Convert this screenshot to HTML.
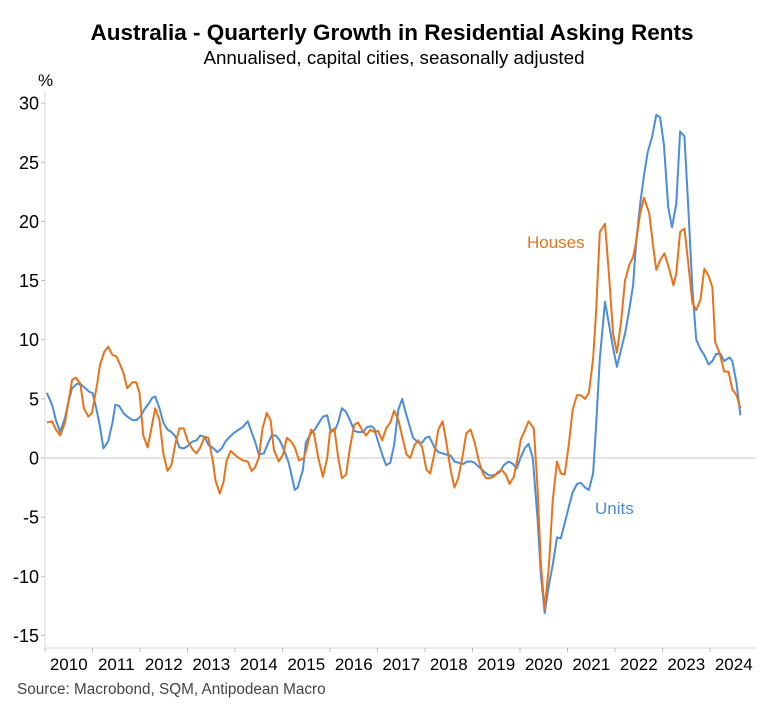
<!DOCTYPE html>
<html><head><meta charset="utf-8"><style>
html,body{margin:0;padding:0;background:#fff;}
svg{display:block;font-family:"Liberation Sans",Arial,sans-serif;}
</style></head><body>
<svg id="chart" width="767" height="715" viewBox="0 0 767 715">
<text x="392" y="40" text-anchor="middle" font-size="22.5" font-weight="bold" fill="#000">Australia - Quarterly Growth in Residential Asking Rents</text>
<text x="394" y="64" text-anchor="middle" font-size="18.8" fill="#000">Annualised, capital cities, seasonally adjusted</text>
<text x="38" y="86" font-size="17" fill="#000">%</text>
<g id="axes"></g>
<g id="series"></g>
<text x="527" y="248" font-size="17" fill="#E8731A">Houses</text>
<text x="595" y="514" font-size="17" fill="#4A8DD8">Units</text>
<text x="17" y="694" font-size="15.3" fill="#444">Source: Macrobond, SQM, Antipodean Macro</text>
</svg>
<script>
const yTicks = [30,25,20,15,10,5,0,-5,-10,-15];
const yearLabels = [2010,2011,2012,2013,2014,2015,2016,2017,2018,2019,2020,2021,2022,2023,2024];

const unitsDates = [2010.04,2010.15,2010.23,2010.32,2010.42,2010.49,2010.57,2010.68,2010.76,2010.85,2010.93,2011.00,2011.08,2011.16,2011.23,2011.33,2011.42,2011.48,2011.56,2011.65,2011.73,2011.84,2011.92,2012.01,2012.09,2012.18,2012.26,2012.32,2012.41,2012.49,2012.58,2012.66,2012.75,2012.83,2012.92,2013.00,2013.11,2013.19,2013.27,2013.36,2013.44,2013.55,2013.63,2013.72,2013.80,2013.89,2013.97,2014.08,2014.16,2014.27,2014.33,2014.42,2014.50,2014.61,2014.69,2014.77,2014.86,2014.94,2015.03,2015.13,2015.26,2015.32,2015.43,2015.49,2015.60,2015.68,2015.77,2015.85,2015.94,2016.02,2016.11,2016.17,2016.25,2016.34,2016.42,2016.51,2016.59,2016.70,2016.78,2016.87,2016.93,2017.01,2017.10,2017.18,2017.27,2017.35,2017.44,2017.52,2017.59,2017.67,2017.75,2017.86,2017.94,2018.01,2018.09,2018.20,2018.28,2018.37,2018.45,2018.54,2018.62,2018.70,2018.81,2018.89,2018.98,2019.04,2019.15,2019.23,2019.32,2019.40,2019.49,2019.57,2019.66,2019.76,2019.85,2019.93,2020.02,2020.10,2020.18,2020.27,2020.37,2020.44,2020.52,2020.61,2020.69,2020.78,2020.86,2020.94,2021.03,2021.11,2021.20,2021.28,2021.37,2021.45,2021.54,2021.60,2021.68,2021.79,2021.87,2021.96,2022.04,2022.13,2022.21,2022.30,2022.38,2022.44,2022.53,2022.61,2022.69,2022.78,2022.87,2022.95,2023.03,2023.12,2023.20,2023.29,2023.37,2023.46,2023.54,2023.63,2023.71,2023.80,2023.88,2023.97,2024.05,2024.13,2024.22,2024.30,2024.41,2024.47,2024.56,2024.64];
const unitsValues = [5.5,4.5,3.2,2.2,3.4,4.7,5.9,6.3,6.2,5.9,5.6,5.5,4.2,2.6,0.8,1.4,3.0,4.5,4.4,3.8,3.5,3.2,3.2,3.5,4.1,4.6,5.1,5.2,4.2,3.0,2.4,2.2,1.8,0.9,0.8,1.0,1.4,1.5,1.9,1.8,1.1,0.8,0.5,0.8,1.4,1.8,2.1,2.4,2.6,3.1,2.4,1.4,0.3,0.4,1.2,1.9,1.9,1.5,0.7,-0.4,-2.7,-2.5,-1.0,1.3,2.1,2.4,3.0,3.5,3.6,2.2,2.4,3.0,4.2,3.9,3.2,2.3,2.2,2.2,2.6,2.7,2.5,1.4,0.3,-0.6,-0.4,1.1,4.1,5.0,3.9,2.8,1.7,1.3,1.3,1.7,1.8,0.9,0.5,0.4,0.3,0.2,-0.3,-0.4,-0.5,-0.3,-0.3,-0.4,-0.8,-1.1,-1.4,-1.5,-1.4,-1.2,-0.6,-0.3,-0.5,-0.9,0.1,0.8,1.2,0.0,-5.2,-9.9,-13.1,-10.7,-9.0,-6.7,-6.8,-5.5,-4.1,-2.9,-2.2,-2.1,-2.5,-2.7,-1.3,2.6,8.4,13.2,11.4,9.3,7.7,9.2,10.5,12.5,14.6,18.0,21.5,23.9,25.9,27.1,29.0,28.8,26.5,21.2,19.5,21.5,27.6,27.2,21.5,14.3,10.0,9.2,8.7,7.9,8.2,8.8,8.8,8.2,8.5,8.2,6.3,3.6];

const housesDates = [2010.04,2010.15,2010.23,2010.32,2010.42,2010.57,2010.65,2010.74,2010.82,2010.91,2010.99,2011.10,2011.16,2011.25,2011.33,2011.42,2011.50,2011.58,2011.65,2011.73,2011.84,2011.92,2011.99,2012.07,2012.16,2012.24,2012.32,2012.41,2012.49,2012.58,2012.66,2012.75,2012.83,2012.92,2013.00,2013.11,2013.19,2013.27,2013.36,2013.44,2013.53,2013.59,2013.68,2013.76,2013.82,2013.91,2013.99,2014.08,2014.16,2014.27,2014.35,2014.42,2014.50,2014.58,2014.67,2014.75,2014.82,2014.92,2015.01,2015.09,2015.18,2015.26,2015.35,2015.45,2015.51,2015.60,2015.66,2015.75,2015.85,2015.94,2016.00,2016.09,2016.17,2016.25,2016.34,2016.42,2016.51,2016.59,2016.70,2016.76,2016.85,2016.93,2017.01,2017.10,2017.18,2017.27,2017.35,2017.44,2017.52,2017.61,2017.69,2017.78,2017.86,2017.94,2018.03,2018.11,2018.20,2018.28,2018.37,2018.45,2018.54,2018.62,2018.70,2018.79,2018.87,2018.96,2019.04,2019.13,2019.21,2019.28,2019.36,2019.44,2019.53,2019.61,2019.70,2019.78,2019.87,2019.95,2020.02,2020.10,2020.18,2020.29,2020.37,2020.44,2020.52,2020.61,2020.69,2020.78,2020.86,2020.94,2021.03,2021.11,2021.20,2021.28,2021.37,2021.45,2021.54,2021.60,2021.68,2021.79,2021.87,2021.96,2022.04,2022.13,2022.21,2022.30,2022.38,2022.44,2022.53,2022.61,2022.72,2022.80,2022.87,2022.95,2023.04,2023.14,2023.23,2023.29,2023.37,2023.46,2023.54,2023.63,2023.71,2023.80,2023.88,2023.97,2024.05,2024.11,2024.20,2024.30,2024.39,2024.47,2024.56,2024.64];
const housesValues = [3.0,3.1,2.4,1.9,3.0,6.6,6.8,6.3,4.2,3.5,3.8,6.3,7.9,9.0,9.4,8.7,8.6,7.9,7.2,5.9,6.4,6.4,5.5,1.9,0.9,2.5,4.2,3.2,0.4,-1.1,-0.6,1.3,2.5,2.5,1.5,0.7,0.4,0.9,1.8,1.7,-0.2,-1.9,-3.0,-2.0,-0.3,0.6,0.3,0.0,-0.2,-0.3,-1.1,-0.8,0.0,2.5,3.8,3.2,0.7,-0.3,0.3,1.7,1.4,0.9,-0.2,0.0,0.8,2.4,2.1,0.1,-1.6,0.0,2.2,2.5,0.1,-1.7,-1.4,0.9,2.8,3.0,2.2,1.9,2.4,2.2,2.3,1.5,2.5,3.0,4.0,3.2,1.8,0.3,0.0,1.1,1.5,0.9,-1.0,-1.3,0.4,2.4,3.1,1.3,-1.0,-2.5,-1.7,0.1,2.1,2.4,1.4,-0.2,-1.2,-1.7,-1.7,-1.6,-1.2,-1.0,-1.4,-2.2,-1.6,0.0,1.6,2.3,3.1,2.5,-2.6,-9.0,-12.8,-9.0,-3.5,-0.3,-1.3,-1.4,1.2,4.1,5.3,5.3,5.0,5.5,8.4,12.2,19.1,19.8,15.7,10.5,8.9,11.6,15.0,16.3,17.0,18.2,20.7,22.0,20.7,18.0,15.9,16.7,17.3,16.0,14.6,15.6,19.1,19.4,16.6,13.1,12.5,13.4,16.0,15.4,14.4,9.8,8.9,7.3,7.3,5.8,5.3,4.2];

const NS = "http://www.w3.org/2000/svg";
const X0 = 45, YEARW = 47.5, Y0 = 458, UNIT = 11.83;
function xScale(t){ return X0 + (t - 2010) * YEARW; }
function yScale(v){ return Y0 - v * UNIT; }
function mk(tag, attrs, parent){ const e=document.createElementNS(NS,tag); for(const k in attrs) e.setAttribute(k,attrs[k]); parent.appendChild(e); return e; }

const axes = document.getElementById('axes');
const left = mk('line',{x1:X0,y1:92,x2:X0,y2:648,stroke:'#d9d9d9','stroke-width':1},axes);


const bottom = mk('line',{x1:X0,y1:648,x2:756,y2:648,stroke:'#d9d9d9','stroke-width':1},axes);


const zero = mk('line',{x1:X0,y1:yScale(0),x2:756,y2:yScale(0),stroke:'#c8c8c8','stroke-width':1},axes);



yTicks.forEach(v=>{
  const y = yScale(v);
  const tk = mk('line',{x1:X0-4,y1:y,x2:X0,y2:y,stroke:'#bbb','stroke-width':1},axes);
  
  
  const lb = mk('text',{x:39,y:y+6.5,'text-anchor':'end','font-size':18,fill:'#000'},axes);
  lb.textContent = v;
  
  
});
yearLabels.forEach(yr=>{
  const xa = xScale(yr);
  const tk = mk('line',{x1:xa,y1:648,x2:xa,y2:652,stroke:'#bbb','stroke-width':1},axes);
  
  
  const lb = mk('text',{x:xScale(yr+0.5),y:670,'text-anchor':'middle','font-size':17,fill:'#000'},axes);
  lb.textContent = yr;
  
  
});

const series = document.getElementById('series');
function line(dates, vals, color, name){
  const d = dates.map((t,i)=>(i?'L':'M')+xScale(t).toFixed(1)+' '+yScale(vals[i]).toFixed(1)).join(' ');
  const p = mk('path',{d:d,fill:'none',stroke:color,'stroke-width':2,'stroke-linejoin':'round'},series);
  
  
}
line(unitsDates, unitsValues, '#4A8DD8', 'units-line');
line(housesDates, housesValues, '#E8731A', 'houses-line');
</script>
</body></html>
